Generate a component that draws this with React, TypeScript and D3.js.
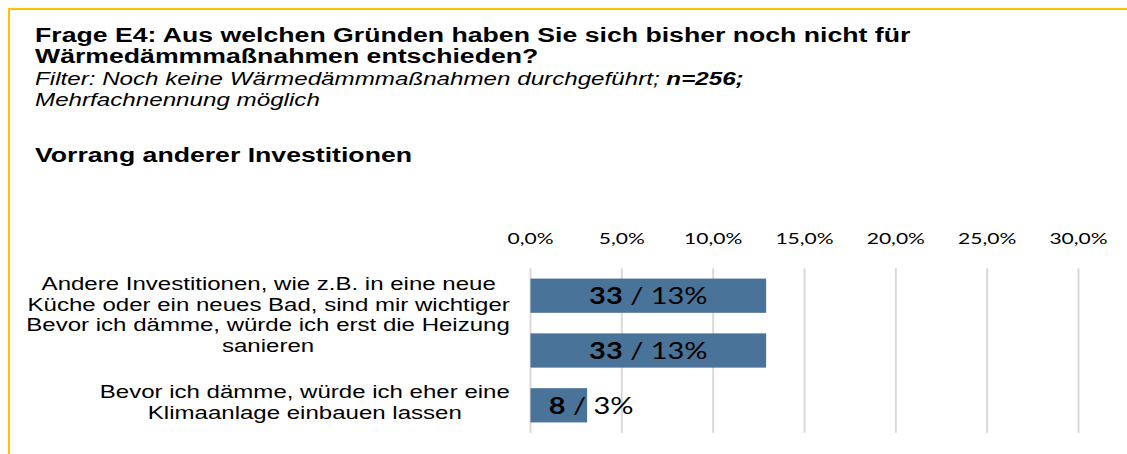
import React, { useEffect, useRef } from "react";
import * as d3 from "d3";

const titleLines = [
  "Frage E4: Aus welchen Gründen haben Sie sich bisher noch nicht für",
  "Wärmedämmmaßnahmen entschieden?",
];
const filterText = "Filter: Noch keine Wärmedämmmaßnahmen durchgeführt; ";
const filterBold = "n=256;";
const filterLine2 = "Mehrfachnennung möglich";
const sectionTitle = "Vorrang anderer Investitionen";

const categories = [
  ["Andere Investitionen, wie z.B. in eine neue", "Küche oder ein neues Bad, sind mir wichtiger"],
  ["Bevor ich dämme, würde ich erst die Heizung", "sanieren"],
  ["Bevor ich dämme, würde ich eher eine", "Klimaanlage einbauen lassen"],
];
const counts = [33, 33, 8];
const shares = [12.9, 12.9, 3.1];
const tickValues = [0, 5, 10, 15, 20, 25, 30];

// layout constants
const W = 1127;
const H = 454;
const SX = 1.3; // horizontal stretch of the reference picture
const labelFirstBaselineDy = [-6.2, -19.3, -7];

export default function App() {
  const ref = useRef<SVGSVGElement | null>(null);

  useEffect(() => {
    const svg = d3.select(ref.current);
    svg.selectAll("*").remove();

    // frame
    svg.append("path")
      .attr("d", `M9,${H + 5} L9,9 L${W + 5},9`)
      .attr("fill", "none")
      .attr("stroke", "#FFC000")
      .attr("stroke-width", 2);

    const st = (x: number, y: number) => `translate(${x},${y}) scale(${SX},1)`;
    const sans = "'Liberation Sans', Arial, sans-serif";
    const lato = "Lato, 'Open Sans', sans-serif";

    // titles
    titleLines.forEach((t, i) => {
      svg.append("text").attr("transform", st(35, 41.5 + i * 21.5))
        .attr("font-family", sans).attr("font-weight", "bold").attr("font-size", 20.5)
        .attr("fill", "#000").text(t);
    });
    const f1 = svg.append("text").attr("transform", st(35, 84.5))
      .attr("font-family", sans).attr("font-style", "italic").attr("font-size", 18.6).attr("fill", "#000");
    f1.append("tspan").text(filterText);
    f1.append("tspan").attr("font-weight", "bold").text(filterBold);
    svg.append("text").attr("transform", st(35, 106))
      .attr("font-family", sans).attr("font-style", "italic").attr("font-size", 18.6)
      .attr("fill", "#000").text(filterLine2);
    svg.append("text").attr("transform", st(35, 162))
      .attr("font-family", sans).attr("font-weight", "bold").attr("font-size", 20.5)
      .attr("fill", "#000").text(sectionTitle);

    // scales
    const x = d3.scaleLinear().domain([0, 30]).range([530.5, 1078.5]);
    const y = d3.scaleBand<number>()
      .domain(categories.map((_, i) => i))
      .range([268.3, 432.7])
      .paddingInner(0.375)
      .paddingOuter(0.1875);

    const loc = d3.formatLocale({ decimal: ",", thousands: ".", grouping: [3], currency: ["", "€"] });
    const fmt = loc.format(".1f");

    // gridlines
    svg.append("g").selectAll("line").data(tickValues).join("line")
      .attr("x1", (d) => x(d)).attr("x2", (d) => x(d))
      .attr("y1", 268.3).attr("y2", 432.7)
      .attr("stroke", "#d9d9d9").attr("stroke-width", 2);

    // tick labels
    tickValues.forEach((d) => {
      svg.append("text").attr("transform", st(x(d), 244))
        .attr("text-anchor", "middle").attr("font-family", lato).attr("font-size", 16.2)
        .attr("fill", "#000").text(fmt(d) + "%");
    });

    // bars
    svg.append("g").selectAll("rect").data(shares).join("rect")
      .attr("x", x(0))
      .attr("y", (_, i) => y(i)!)
      .attr("width", (d) => x(d) - x(0))
      .attr("height", y.bandwidth())
      .attr("fill", "#4A7399");

    // data labels
    shares.forEach((v, i) => {
      const cy = y(i)! + y.bandwidth() / 2;
      const t = svg.append("text")
        .attr("text-anchor", "middle").attr("font-family", lato).attr("font-size", 22.3)
        .attr("fill", "#000");
      t.append("tspan").attr("font-weight", "bold").text(String(counts[i]));
      t.append("tspan").text(` / ${Math.round(v)}%`);
      const wReal = (t.node() as SVGTextElement).getComputedTextLength() * SX;
      const barW = x(v) - x(0);
      const cx = wReal + 10 < barW ? (x(0) + x(v)) / 2 : x(v) + 4;
      t.attr("transform", st(cx, cy + 8.2));
    });

    // category labels
    categories.forEach((lines, i) => {
      const cy = y(i)! + y.bandwidth() / 2;
      const nodes = lines.map((line) =>
        svg.append("text")
          .attr("text-anchor", "middle").attr("font-family", sans).attr("font-size", 18.5)
          .attr("fill", "#000").text(line)
      );
      const blockW = d3.max(nodes, (n) => (n.node() as SVGTextElement).getComputedTextLength() * SX) || 0;
      const lx = 510 - blockW / 2;
      nodes.forEach((n, j) => n.attr("transform", st(lx, cy + labelFirstBaselineDy[i] + j * 21)));
    });
  }, []);

  return (
    <svg
      ref={ref}
      width={W}
      height={H}
      style={{ position: "absolute", left: 0, top: 0, background: "#fff" }}
    />
  );
}
